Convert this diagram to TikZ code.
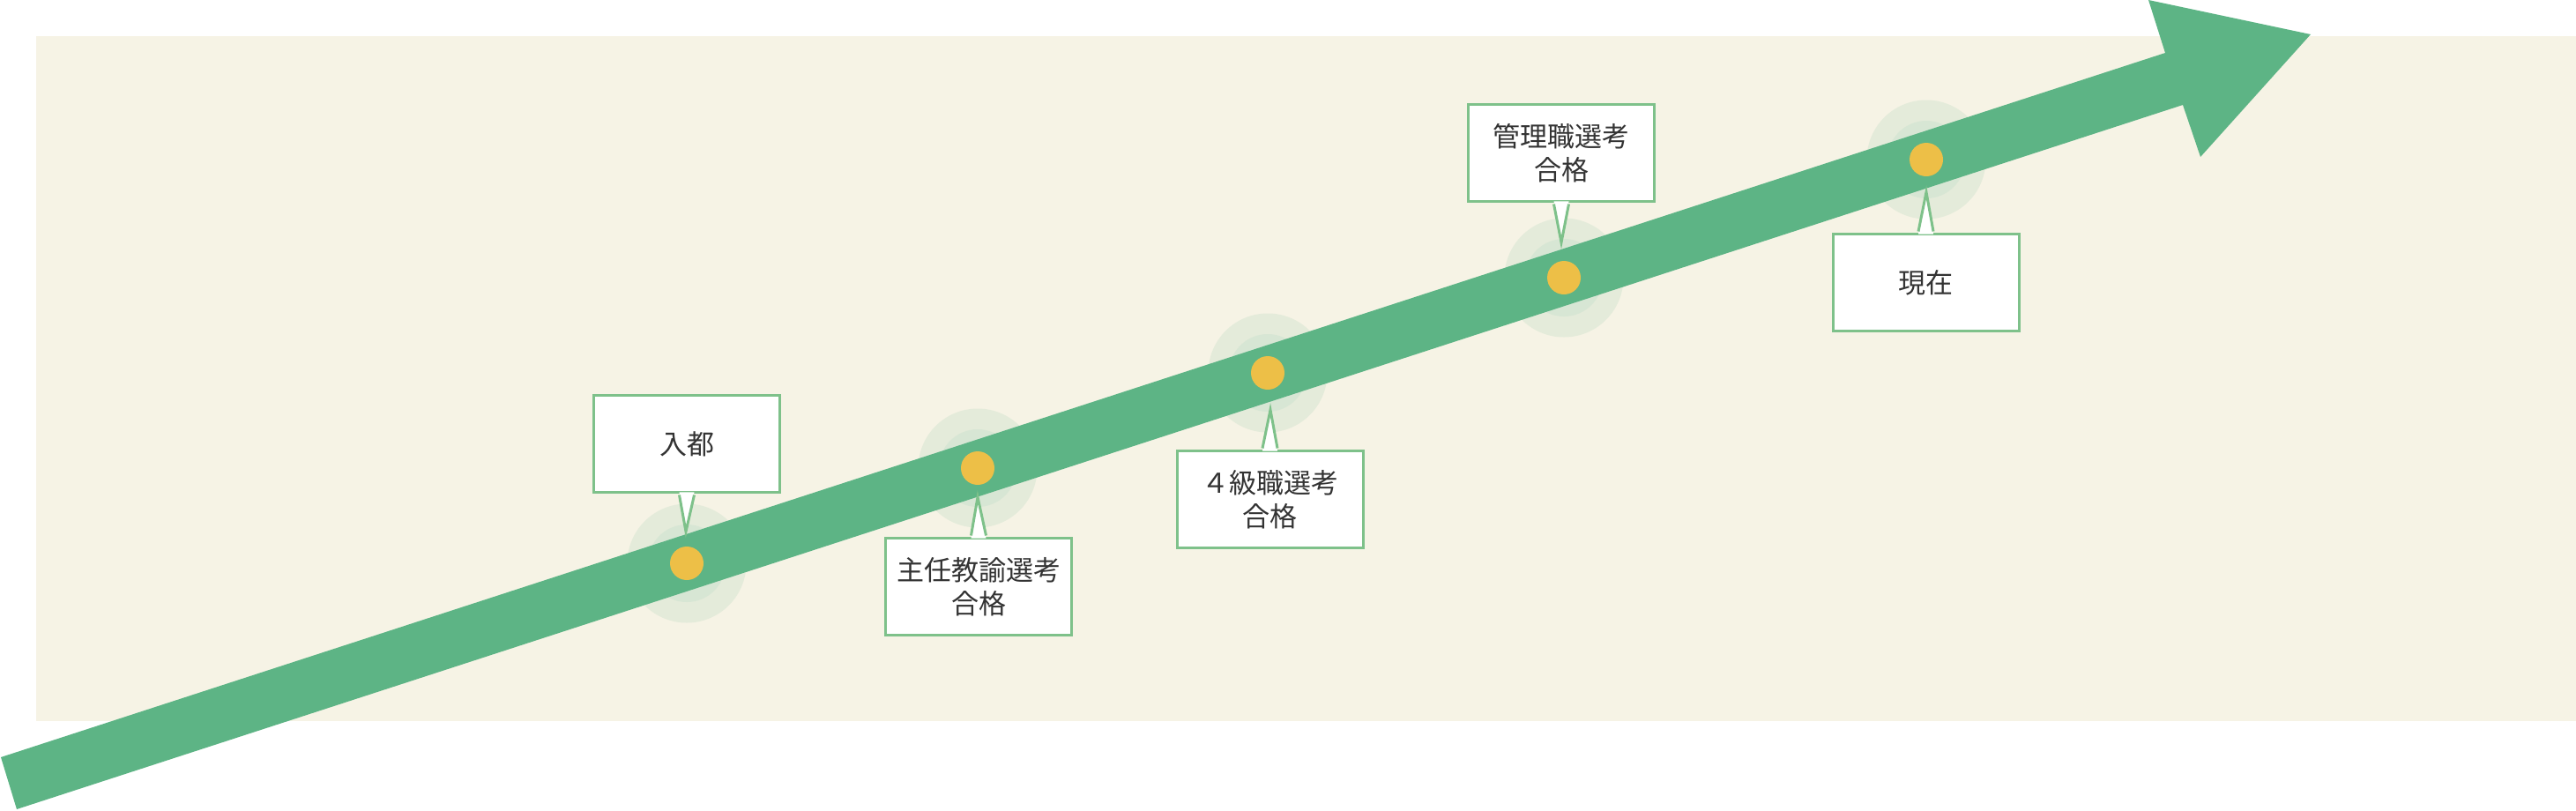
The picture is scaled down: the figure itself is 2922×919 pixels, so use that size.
\documentclass[tikz,border=0pt]{standalone}
\usepackage{fontspec}
\newfontfamily\jpfont{Noto Sans CJK JP}
\definecolor{bgbeige}{HTML}{F6F3E5}
\definecolor{arrowgreen}{HTML}{5DB485}
\definecolor{dotyellow}{HTML}{EDBF47}
\definecolor{boxborder}{HTML}{7EC18A}
\definecolor{haloout}{HTML}{E4EBDA}
\definecolor{haloin}{HTML}{D7E6D4}
\definecolor{txt}{HTML}{333333}
\begin{document}
\begin{tikzpicture}[x=1pt,y=-1pt,
  callout/.style={draw=boxborder, line width=3pt, fill=white, rectangle,
    minimum width=211pt, minimum height=110pt, inner sep=0pt,
    align=center, text=txt, font=\jpfont\fontsize{31pt}{38pt}\selectfont},
  dotmark/.style={circle, fill=dotyellow, minimum size=38pt, inner sep=0pt},
  halo/.style={fill=haloout},
  haloinner/.style={fill=haloin}]
\useasboundingbox (0,0) rectangle (2922,919);
\fill[white] (0,0) rectangle (2922,919);
\fill[bgbeige] (41,41) rectangle (2922,818);
% dot positions
\coordinate (p1) at (779,639);
\coordinate (p2) at (1109,531);
\coordinate (p3) at (1438,423);
\coordinate (p4) at (1774,315);
\coordinate (p5) at (2185,181);
% halos
\foreach \p in {p1,p2,p3,p4,p5}{
  \fill[halo] (\p) circle (67.5);
  \fill[haloinner] (\p) circle (44);
}
% arrow
\fill[arrowgreen] (1,859) -- (2456,60) -- (2437,0) -- (2621,39) -- (2496,178) -- (2476,119) -- (19,918) -- cycle;
% dots
\foreach \p/\n in {p1/d1,p2/d2,p3/d3,p4/d4,p5/d5}{
  \node[dotmark] (\n) at (\p) {};
}
% callouts
\node[callout] (b1) at (779,503.5) {入都};
\coordinate (t1) at (778,603);
\node[callout] (b2) at (1110,665.5) {主任教諭選考\\合格};
\coordinate (t2) at (1109,564);
\node[callout] (b3) at (1440.5,566.5) {４級職選考\\合格};
\coordinate (t3) at (1441,465);
\node[callout] (b4) at (1771,173.5) {管理職選考\\合格};
\coordinate (t4) at (1771,275);
\node[callout] (b5) at (2184.5,320.5) {現在};
\coordinate (t5) at (2185,218);
% pointers below boxes
\foreach \b/\t in {b1/t1,b4/t4}{
  \fill[white] ([xshift=-8.5pt,yshift=1.6pt]\b.south) -- (\t) -- ([xshift=8.5pt,yshift=1.6pt]\b.south) -- cycle;
  \draw[boxborder, line width=3pt, line join=miter] ([xshift=-8.5pt,yshift=-1.5pt]\b.south) -- (\t) -- ([xshift=8.5pt,yshift=-1.5pt]\b.south);
}
% pointers above boxes
\foreach \b/\t in {b2/t2,b3/t3,b5/t5}{
  \fill[white] ([xshift=-8.5pt,yshift=-1.6pt]\b.north) -- (\t) -- ([xshift=8.5pt,yshift=-1.6pt]\b.north) -- cycle;
  \draw[boxborder, line width=3pt, line join=miter] ([xshift=-8.5pt,yshift=1.5pt]\b.north) -- (\t) -- ([xshift=8.5pt,yshift=1.5pt]\b.north);
}
\end{tikzpicture}
\end{document}
